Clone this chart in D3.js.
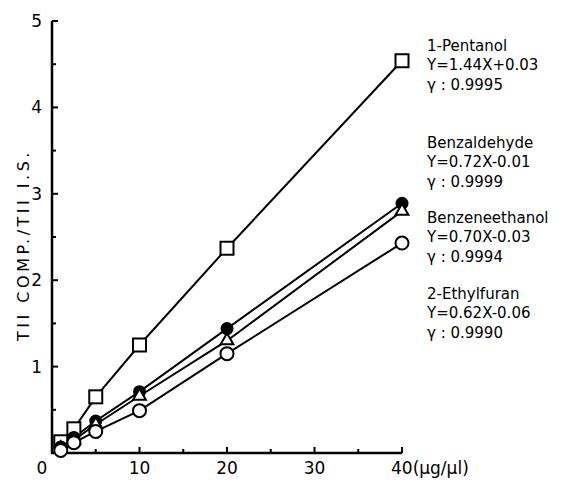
<!DOCTYPE html>
<html>
<head>
<meta charset="utf-8">
<script src="https://cdn.jsdelivr.net/npm/d3@7"></script>
<style>
  body { margin: 0; background: #fff; }
  svg { display: block; }
  text { font-family: "DejaVu Sans", sans-serif; fill: #000; }
</style>
</head>
<body>
<svg id="chart" width="567" height="483"></svg>
<script>
// ---- data ----
const concentrations = [1, 2.5, 5, 10, 20, 40];
const pentanol       = [0.13, 0.28, 0.65, 1.25, 2.37, 4.54];
const benzaldehyde   = [0.07, 0.18, 0.37, 0.71, 1.44, 2.89];
const benzeneethanol = [0.05, 0.15, 0.33, 0.66, 1.30, 2.80];
const ethylfuran     = [0.03, 0.12, 0.25, 0.49, 1.15, 2.43];
const xTicks = [10, 20, 30, 40];
const xMinorTicks = [5, 15, 25, 35];
const yTicks = [1, 2, 3, 4, 5];
const yMinorTicks = [0.5, 1.5, 2.5, 3.5, 4.5];
const seriesNames = ["1-Pentanol", "Benzaldehyde", "Benzeneethanol", "2-Ethylfuran"];
const equations = ["Y=1.44X+0.03", "Y=0.72X-0.01", "Y=0.70X-0.03", "Y=0.62X-0.06"];
const rValues = ["0.9995", "0.9999", "0.9994", "0.9990"];
const markers = ["square", "filledCircle", "triangle", "openCircle"];
const seriesValues = [pentanol, benzaldehyde, benzeneethanol, ethylfuran];

const svg = d3.select("#chart");
const x = d3.scaleLinear().domain([0, 40]).range([52, 402]);
const y = d3.scaleLinear().domain([0, 5]).range([453, 21]);

const ax = svg.append("g").attr("stroke", "#000").attr("fill", "none");
// axis lines
ax.append("path").attr("d", `M${x(0)},${y(5)}V${y(0)}H${x(40)}`).attr("stroke-width", 2.5);
// ticks (inward)
xTicks.forEach(t => ax.append("line").attr("x1", x(t)).attr("x2", x(t)).attr("y1", y(0)).attr("y2", y(0) - 6).attr("stroke-width", 2));
xMinorTicks.forEach(t => ax.append("line").attr("x1", x(t)).attr("x2", x(t)).attr("y1", y(0)).attr("y2", y(0) - 4).attr("stroke-width", 2));
yTicks.forEach(t => ax.append("line").attr("x1", x(0)).attr("x2", x(0) + 6).attr("y1", y(t)).attr("y2", y(t)).attr("stroke-width", 2));
yMinorTicks.forEach(t => ax.append("line").attr("x1", x(0)).attr("x2", x(0) + 4).attr("y1", y(t)).attr("y2", y(t)).attr("stroke-width", 2));

// tick labels
const tickFont = "17px";
xTicks.forEach(t => {
  svg.append("text").attr("x", t === 40 ? x(t) - 11 : x(t))
    .attr("y", 474).attr("text-anchor", t === 40 ? "start" : "middle")
    .style("font-size", tickFont).text(t === 40 ? "40(\u03bcg/\u03bcl)" : t);
});
svg.append("text").attr("x", 42).attr("y", 474).attr("text-anchor", "middle").style("font-size", tickFont).text("0");
yTicks.forEach(t => {
  svg.append("text").attr("x", 42).attr("y", y(t) + 6).attr("text-anchor", "end")
    .style("font-size", tickFont).text(t);
});

// y label
svg.append("text")
  .attr("transform", `translate(29,${(y(0) + y(5)) / 2 + 8}) rotate(-90)`)
  .attr("text-anchor", "middle")
  .style("font-size", "16px").style("letter-spacing", "3.5px")
  .text("TII COMP./TII I.S.");

// lines
const line = d3.line().x(d => x(d[0])).y(d => y(d[1]));
seriesValues.forEach(vals => {
  const pts = concentrations.map((c, i) => [c, vals[i]]);
  svg.append("path").attr("d", line(pts)).attr("fill", "none")
    .attr("stroke", "#000").attr("stroke-width", 2);
});

// markers
seriesValues.forEach((vals, s) => {
  const m = markers[s];
  concentrations.forEach((c, i) => {
    const cx = x(c), cy = y(vals[i]);
    if (m === "square") {
      svg.append("rect").attr("x", cx - 6.5).attr("y", cy - 6.5).attr("width", 13).attr("height", 13)
        .attr("fill", "#fff").attr("stroke", "#000").attr("stroke-width", 2);
    } else if (m === "filledCircle") {
      svg.append("circle").attr("cx", cx).attr("cy", cy).attr("r", 6.5).attr("fill", "#000");
    } else if (m === "openCircle") {
      svg.append("circle").attr("cx", cx).attr("cy", cy).attr("r", 6.5)
        .attr("fill", "#fff").attr("stroke", "#000").attr("stroke-width", 2);
    } else {
      const tri = d3.symbol().type(d3.symbolTriangle).size(70);
      svg.append("path").attr("d", tri()).attr("transform", `translate(${cx},${cy})`)
        .attr("fill", "#fff").attr("stroke", "#000").attr("stroke-width", 2);
    }
  });
});

// annotations
const labelTops = [51, 148, 223, 299];
seriesNames.forEach((name, i) => {
  const g = svg.append("g").attr("transform", `translate(427,${labelTops[i]})`);
  g.append("text").attr("y", 0).style("font-size", "15px").text(name);
  g.append("text").attr("y", 19).style("font-size", "15px").text(equations[i]);
  g.append("text").attr("y", 39).style("font-size", "15px").text("\u03b3 : " + rValues[i]);
});
</script>
</body>
</html>
